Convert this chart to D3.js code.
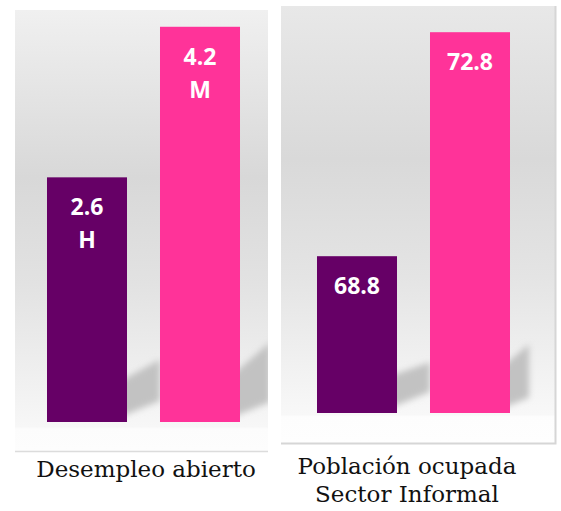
<!doctype html>
<html>
  <head>
    <meta charset="utf-8">
    <script src="https://cdn.jsdelivr.net/npm/d3@7"></script>
    <style>
      body { margin: 0; background: #fff; }
      .val { font-family: "Open Sans", sans-serif; font-weight: 700; font-size: 23px; fill: #fff; }
      .cat { font-family: "DejaVu Serif", serif; font-size: 23px; fill: #111; }
    </style>
  </head>
  <body>
    <script>
      // data
      var grupos = ["H", "M"];
      var desempleo = [2.6, 4.2];
      var informal = [68.8, 72.8];
      var titulo_desempleo = ["Desempleo abierto"];
      var titulo_informal = ["Población ocupada", "Sector Informal"];
      var colores = ["#660066", "#ff3399"];

      var w_svg = 561, h_svg = 511;

      var svg = d3.select("body").append("svg")
                  .attr("width", w_svg)
                  .attr("height", h_svg);

      var defs = svg.append("defs");

      function grad(id, stops) {
        var g = defs.append("linearGradient").attr("id", id)
                    .attr("x1", 0).attr("y1", 0).attr("x2", 0).attr("y2", 1);
        g.selectAll("stop").data(stops).enter().append("stop")
         .attr("offset", function(d){ return d[0]; })
         .attr("stop-color", function(d){ return d[1]; });
      }
      grad("bg_left", [[0, "#f0f0f0"], [0.38, "#d8d8d8"], [0.62, "#e2e2e2"], [0.945, "#f7f7f7"], [0.95, "#fcfcfc"], [1, "#fdfdfd"]]);
      grad("bg_right", [[0, "#e8e8e8"], [0.35, "#d9d9d9"], [0.62, "#e4e4e4"], [0.935, "#f8f8f8"], [0.94, "#fdfdfd"], [1, "#fefefe"]]);

      defs.append("filter").attr("id", "blur")
          .attr("x", "-50%").attr("y", "-50%").attr("width", "200%").attr("height", "200%")
          .append("feGaussianBlur").attr("stdDeviation", 3);

      var paneles = [
        { datos: desempleo, titulo: titulo_desempleo, bg: "bg_left",
          box: [15, 268, 10, 451], rango_x: [30.5, 256.5],
          y: d3.scaleLinear().domain([0, 4.5]).range([422, 422 - 4.5 * 94.1]),
          sombra: [33, 30],
          letras: true, cx: 146, base_titulo: 477, borde: "bottom" },
        { datos: informal, titulo: titulo_informal, bg: "bg_right",
          box: [281, 555, 6, 443], rango_x: [300.5, 526.5],
          y: d3.scaleLinear().domain([66, 73.5]).range([413, 413 - 7.5 * 56]),
          sombra: [33, 19],
          letras: false, cx: 407, base_titulo: 474, borde: "box" }
      ];

      paneles.forEach(function(p, k) {
        var g = svg.append("g");
        var b = p.box;

        var x = d3.scaleBand().domain(grupos).range(p.rango_x)
                  .paddingInner(0.292).paddingOuter(0.146);
        var y = p.y;
        var y0 = y.range()[0];

        // shadows stay inside the panel and above the baseline
        defs.append("clipPath").attr("id", "clip" + k)
            .append("rect").attr("x", b[0]).attr("y", b[2])
            .attr("width", b[1] - b[0]).attr("height", y0 - b[2]);

        g.append("rect")
         .attr("x", b[0]).attr("y", b[2])
         .attr("width", b[1] - b[0]).attr("height", b[3] - b[2])
         .attr("fill", "url(#" + p.bg + ")");

        if (p.borde == "bottom") {
          g.append("line").attr("x1", b[0]).attr("x2", b[1])
           .attr("y1", b[3] + 0.5).attr("y2", b[3] + 0.5)
           .attr("stroke", "#dcdcdc").attr("stroke-width", 1.5);
        } else {
          g.append("path")
           .attr("d", "M" + (b[1] + 0.5) + "," + b[2] + "V" + (b[3] + 0.5) + "H" + b[0])
           .attr("fill", "none").attr("stroke", "#d6d6d6").attr("stroke-width", 2);
        }

        // perspective shadow: slanted band to the right of each bar
        g.append("g").attr("clip-path", "url(#clip" + k + ")")
         .selectAll("path").data(p.datos).enter().append("path")
         .attr("d", function(d, i) {
            var x1 = x(grupos[i]) + x.bandwidth();
            var w = p.sombra[i];
            var h = y0 - y(d);
            var tl = 30 + 0.06 * h, tr = tl + 0.0022 * h * w;
            var bl = 8, br = bl + 0.4 * w;
            var xa = x1 - 8;
            return "M" + xa + "," + (y0 - bl + 0.4 * 8) +
                   "L" + (x1 + w) + "," + (y0 - br) +
                   "L" + (x1 + w) + "," + (y0 - tr) +
                   "L" + xa + "," + (y0 - tl + 0.0022 * h * 8) + "Z";
         })
         .attr("fill", "#c2c2c2")
         .attr("filter", "url(#blur)");

        g.selectAll("rect.bar").data(p.datos).enter().append("rect")
         .attr("class", "bar")
         .attr("x", function(d, i){ return x(grupos[i]); })
         .attr("y", function(d){ return y(d); })
         .attr("width", x.bandwidth())
         .attr("height", function(d){ return y0 - y(d); })
         .attr("fill", function(d, i){ return colores[i]; });

        g.selectAll("text.val").data(p.datos).enter().append("text")
         .attr("class", "val")
         .attr("text-anchor", "middle")
         .attr("x", function(d, i){ return x(grupos[i]) + x.bandwidth() / 2; })
         .attr("y", function(d){ return y(d) + 38; })
         .text(function(d){ return d.toFixed(1); });

        if (p.letras) {
          g.selectAll("text.letra").data(p.datos).enter().append("text")
           .attr("class", "val")
           .attr("text-anchor", "middle")
           .attr("x", function(d, i){ return x(grupos[i]) + x.bandwidth() / 2; })
           .attr("y", function(d){ return y(d) + 71; })
           .text(function(d, i){ return grupos[i]; });
        }

        g.selectAll("text.cat").data(p.titulo).enter().append("text")
         .attr("class", "cat")
         .attr("text-anchor", "middle")
         .attr("x", p.cx)
         .attr("y", function(d, i){ return p.base_titulo + i * 28; })
         .text(function(d){ return d; });
      });
    </script>
  </body>
</html>
